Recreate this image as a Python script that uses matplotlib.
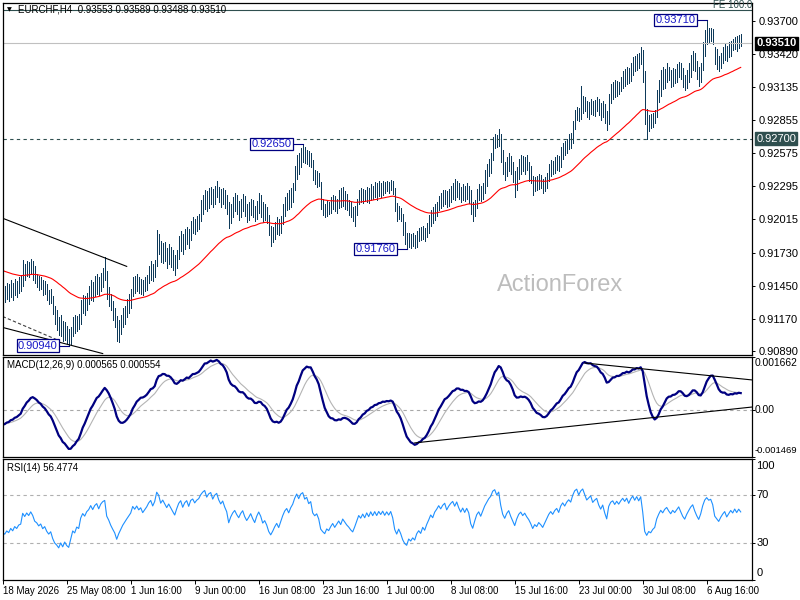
import numpy as np
import pandas as pd
import matplotlib
matplotlib.use("Agg")
import matplotlib.pyplot as plt

plt.rcParams["font.family"] = ["Liberation Sans", "DejaVu Sans"]

# ------------------------------------------
# 1. Data - EURCHF H4 bars, in pips above 0.90000
# ------------------------------------------

close_pips = [
    140, 137, 141, 138, 143, 139, 144, 141, 145, 146,
    160, 156, 161, 158, 163, 159, 152, 150, 146, 148,
    142, 144, 138, 134, 136, 126, 118, 114, 108, 112,
    104, 108, 101, 97, 104, 112, 109, 115, 113, 125,
    131, 128, 134, 137, 143, 139, 145, 148, 143, 150,
    154, 156, 140, 135, 128, 122, 116, 104, 110, 115,
    120, 124, 128, 132, 136, 146, 143, 148, 144, 147,
    142, 146, 150, 156, 160, 155, 162, 181, 178, 170,
    176, 172, 168, 174, 170, 166, 162, 171, 180, 185,
    178, 186, 190, 184, 195, 198, 194, 199, 202, 210,
    216, 220, 214, 221, 224, 218, 226, 230, 224, 220,
    225, 219, 214, 200, 208, 214, 218, 213, 209, 215,
    219, 212, 207, 211, 216, 210, 205, 213, 219, 214,
    205, 208, 202, 192, 186, 190, 195, 199, 193, 200,
    208, 215, 219, 214, 222, 228, 240, 250, 245, 256,
    260, 253, 257, 250, 254, 240, 236, 239, 232, 215,
    210, 206, 212, 209, 214, 218, 212, 216, 220, 215,
    222, 218, 214, 211, 207, 204, 209, 215, 222, 219,
    224, 220, 226, 222, 228, 224, 229, 225, 230, 227,
    231, 227, 231, 228, 232, 226, 212, 205, 210, 203,
    192, 184, 180, 186, 182, 185, 181, 187, 190, 186,
    192, 188, 194, 199, 205, 202, 209, 213, 218, 215,
    220, 223, 217, 222, 226, 229, 225, 231, 226, 222,
    227, 223, 228, 224, 212, 206, 214, 222, 226, 221,
    228, 236, 242, 249, 254, 266, 270, 265, 272, 258,
    246, 240, 248, 253, 245, 238, 230, 240, 248, 252,
    247, 251, 246, 242, 236, 228, 233, 230, 235, 232,
    228, 233, 238, 244, 248, 245, 250, 253, 249, 258,
    263, 260, 266, 270, 268, 280, 290, 294, 289, 298,
    303, 298, 293, 297, 301, 295, 299, 302, 296, 292,
    298, 290, 283, 302, 310, 313, 309, 315, 312, 318,
    323, 320, 326, 321, 329, 335, 331, 338, 334, 342,
    325, 290, 280, 286, 283, 288, 291, 305, 314, 322,
    318, 325, 329, 324, 320, 326, 323, 328, 333, 327,
    321, 317, 324, 330, 336, 340, 333, 327, 322, 330,
    344, 356, 362, 359, 361, 355, 340, 336, 332, 338,
    343, 347, 340, 345, 350, 347, 353, 349, 354, 351.0,
]

high_pips = [
    148, 145, 147, 146, 150, 147, 151, 149, 152, 154,
    167, 163, 166, 165, 168, 166, 162, 155, 153, 152,
    150, 149, 146, 141, 142, 136, 128, 124, 118, 120,
    115, 114, 111, 108, 110, 118, 120, 119, 121, 133,
    137, 136, 139, 145, 150, 148, 153, 155, 152, 156,
    160, 169, 157, 144, 138, 132, 126, 119, 116, 120,
    126, 128, 134, 138, 142, 152, 153, 155, 152, 151,
    150, 152, 154, 162, 166, 163, 167, 192, 189, 183,
    181, 182, 177, 180, 178, 175, 171, 175, 187, 191,
    189, 193, 195, 193, 200, 203, 202, 204, 206, 218,
    222, 226, 225, 228, 229, 227, 230, 234, 229, 227,
    228, 226, 222, 216, 214, 220, 224, 222, 217, 219,
    223, 221, 214, 216, 219, 218, 213, 217, 224, 222,
    216, 214, 212, 205, 196, 195, 199, 203, 202, 204,
    214, 220, 224, 226, 228, 232, 247, 256, 258, 262,
    265, 263, 260, 259, 258, 252, 243, 242, 241, 233,
    219, 214, 217, 216, 220, 222, 221, 219, 226, 228,
    229, 225, 223, 218, 216, 212, 213, 219, 226, 228,
    227, 226, 229, 228, 231, 230, 233, 232, 234, 232,
    234, 233, 234, 233, 235, 234, 228, 215, 213, 211,
    206, 199, 190, 190, 189, 190, 188, 191, 194, 195,
    196, 194, 198, 205, 209, 212, 214, 216, 221, 224,
    226, 226, 225, 227, 230, 232, 236, 234, 232, 229,
    231, 230, 232, 230, 226, 216, 218, 227, 231, 230,
    232, 243, 248, 253, 258, 271, 274, 273, 278, 274,
    260, 250, 254, 258, 255, 250, 242, 246, 253, 256,
    255, 254, 256, 250, 247, 238, 237, 238, 240, 239,
    236, 237, 241, 248, 252, 251, 254, 256, 255, 263,
    266, 268, 270, 274, 275, 285, 294, 297, 296, 315,
    306, 305, 302, 301, 304, 302, 303, 305, 304, 300,
    302, 299, 293, 308, 316, 318, 320, 319, 318, 322,
    327, 329, 331, 330, 334, 339, 340, 342, 343, 348,
    345, 327, 295, 290, 291, 292, 294, 311, 320, 328,
    331, 329, 334, 331, 328, 330, 329, 333, 335, 334,
    330, 324, 328, 334, 341, 344, 343, 336, 331, 334,
    352, 362, 371, 364, 364, 363, 348, 346, 340, 343,
    348, 351, 349, 352, 353, 355, 356, 357, 358, 358.9,
]

low_pips = [
    133, 131, 134, 132, 135, 133, 137, 135, 139, 140,
    145, 150, 153, 152, 155, 150, 147, 144, 141, 142,
    137, 138, 133, 129, 130, 121, 112, 107, 103, 102,
    98, 99, 96, 94, 95, 102, 105, 106, 108, 112,
    122, 120, 124, 129, 133, 132, 136, 138, 137, 140,
    144, 150, 134, 128, 124, 116, 110, 98, 97, 104,
    110, 112, 118, 122, 126, 136, 139, 140, 139, 138,
    137, 140, 141, 147, 150, 149, 152, 162, 172, 165,
    164, 166, 160, 163, 161, 158, 154, 160, 168, 174,
    172, 176, 180, 177, 184, 190, 189, 191, 193, 200,
    206, 210, 208, 211, 214, 212, 214, 220, 216, 212,
    214, 211, 206, 194, 198, 203, 208, 206, 201, 203,
    208, 204, 199, 201, 205, 203, 200, 202, 207, 203,
    199, 201, 198, 188, 179, 182, 185, 189, 188, 190,
    197, 204, 209, 210, 212, 216, 226, 236, 240, 246,
    250, 249, 248, 247, 246, 235, 231, 229, 230, 210,
    205, 203, 204, 206, 207, 210, 208, 207, 211, 212,
    213, 210, 209, 205, 203, 200, 196, 205, 214, 216,
    215, 217, 216, 215, 218, 219, 220, 218, 221, 220,
    222, 224, 225, 224, 226, 223, 208, 200, 202, 200,
    188, 180, 176, 178, 177, 179, 177, 178, 183, 184,
    185, 183, 186, 190, 196, 198, 201, 204, 209, 211,
    213, 214, 212, 213, 216, 219, 218, 220, 219, 216,
    218, 217, 219, 215, 206, 200, 204, 211, 218, 217,
    219, 224, 230, 238, 241, 252, 262, 263, 264, 250,
    240, 235, 238, 242, 240, 233, 220, 226, 236, 240,
    242, 240, 243, 234, 232, 222, 225, 226, 227, 228,
    224, 225, 228, 234, 238, 240, 241, 243, 242, 246,
    253, 256, 258, 261, 262, 266, 278, 286, 285, 287,
    292, 293, 288, 287, 291, 290, 289, 293, 290, 286,
    288, 283, 277, 282, 300, 304, 305, 306, 308, 310,
    313, 315, 316, 317, 319, 324, 327, 328, 330, 333,
    318, 282, 270, 276, 279, 280, 283, 288, 301, 306,
    312, 313, 318, 320, 314, 315, 317, 318, 322, 321,
    314, 311, 313, 318, 322, 328, 327, 321, 315, 318,
    328, 340, 350, 352, 353, 350, 333, 329, 327, 330,
    334, 337, 336, 339, 340, 345, 346, 344, 347, 348.8,
]

# starting values of the indicators at the left edge
ma_start = 0.91585
ema12_start = 0.91395
ema26_start = 0.91445
signal_start = -0.00040
rsi_prev_close = 0.91430
rsi_gain_start = 0.00030
rsi_loss_start = 0.00045

price_ticks = [0.93700, 0.93420, 0.93135, 0.92855, 0.92575, 0.92295,
               0.92015, 0.91730, 0.91450, 0.91170, 0.90890]
bid_price = 0.93510
support_level = 0.92700
fe_level = 0.93795

swing_bars = [33, 150, 202, 352]
swing_prices = [0.90940, 0.92650, 0.91760, 0.93710]

# trendlines (bar index, price / indicator value)
price_lines = [((0, 0.92022), (62, 0.91613), "-"),
               ((0, 0.91094), (50, 0.90872), "-"),
               ((0, 0.91187), (28, 0.90983), "--")]
macd_lines = [((291, 0.00146), (375, 0.00093)),
              ((206, -0.00103), (375, 0.00009))]

macd_ticks = [0.001662, 0.0, -0.001469]
macd_tick_labels = ["0.001662", "0.00", "-0.001469"]
rsi_ticks = [100, 70, 30, 0]

# ------------------------------------------
# 2. Prices, times and indicators
# ------------------------------------------

close = 0.9 + np.array(close_pips) / 10000
high = 0.9 + np.array(high_pips) / 10000
low = 0.9 + np.array(low_pips) / 10000
n = len(close)
x = np.arange(n)

times = pd.date_range("2026-05-18 00:00", periods=n * 2, freq="4h")
times = times[times.dayofweek < 5][:n]


def ema(values, period, start):
    a = 2.0 / (period + 1)
    out = []
    v = start
    for c in values:
        v = v + a * (c - v)
        out.append(v)
    return np.array(out)


ma55 = ema(close, 55, ma_start)
macd = ema(close, 12, ema12_start) - ema(close, 26, ema26_start)
signal = ema(macd, 9, signal_start)

rsi = []
avg_gain, avg_loss = rsi_gain_start, rsi_loss_start
prev = rsi_prev_close
for c in close:
    d = c - prev
    avg_gain = (avg_gain * 13 + max(d, 0)) / 14
    avg_loss = (avg_loss * 13 + max(-d, 0)) / 14
    rsi.append(100 - 100 / (1 + avg_gain / avg_loss))
    prev = c
rsi = np.array(rsi)

# ------------------------------------------
# 3. Figure layout (pixel based, like the terminal)
# ------------------------------------------

W, H = 800, 600
fig = plt.figure(figsize=(8, 6), dpi=100)
fig.patch.set_facecolor("white")


def px_axes(left, top, right, bottom):
    return fig.add_axes([left / W, 1 - bottom / H, (right - left) / W, (bottom - top) / H])


ax1 = px_axes(2.5, 2.5, 752, 354.5)
ax2 = px_axes(2.5, 356.5, 752, 457)
ax3 = px_axes(2.5, 459, 752, 579.5)

xmin, xmax = -0.1, 374.65
for ax in (ax1, ax2, ax3):
    ax.set_xlim(xmin, xmax)
    for s in ax.spines.values():
        s.set_color("black")
        s.set_linewidth(0.9)
    ax.tick_params(axis="y", left=False, labelleft=False, right=True, labelright=True,
                   length=2.5, width=0.7, pad=2, labelsize=8, colors="black")
ax1.set_xticks([])
ax2.set_xticks([])

bar_color = "#0E3A5A"
label_kw = dict(fontsize=7, color="black")

# ------------------------------------------
# 4. Price panel
# ------------------------------------------

ax1.set_ylim(0.90864, 0.93856)
ax1.set_yticks(price_ticks)
ax1.set_yticklabels([f"{p:.5f}" for p in price_ticks])

ax1.vlines(x, low, high, color=bar_color, lw=0.5, antialiased=False)
ax1.plot(x, ma55, color="red", lw=0.8)

ax1.axhline(bid_price, color="#C0C0C0", lw=0.8)
ax1.axhline(support_level, color="#2F4F4F", lw=0.8, ls=(0, (3, 3)))
ax1.axhline(fe_level, color="#2F4F4F", lw=0.8)
ax1.text(1.0, fe_level, "FE 100.0", transform=ax1.get_yaxis_transform(),
         ha="right", va="bottom", fontsize=7, color="#2F4F4F")

for (x0, y0), (x1, y1), ls in price_lines:
    ax1.plot([x0, x1], [y0, y1], color="black" if ls == "-" else "#404040",
             lw=0.8, ls=ls if ls == "-" else (0, (3, 2)))

for b, p in zip(swing_bars, swing_prices):
    box_right = b - 5
    ax1.plot([box_right, b], [p, p], color="#000080", lw=0.8)
    ax1.text(box_right - 0.6, p, f"{p:.5f}", ha="right", va="center", fontsize=8,
             color="#1818C8",
             bbox=dict(boxstyle="square,pad=0.1", fc="white", ec="#000080", lw=0.9))

ax1.annotate(f"{bid_price:.5f}", xy=(1, bid_price), xycoords=("axes fraction", "data"),
             xytext=(3, 0), textcoords="offset points", ha="left", va="center",
             fontsize=8, color="white", fontweight="bold",
             bbox=dict(boxstyle="square,pad=0.12", fc="black", ec="black"))
ax1.annotate(f"{support_level:.5f}", xy=(1, support_level), xycoords=("axes fraction", "data"),
             xytext=(3, 0), textcoords="offset points", ha="left", va="center",
             fontsize=8, color="white",
             bbox=dict(boxstyle="square,pad=0.12", fc="#2F4F4F", ec="#2F4F4F"))

ax1.annotate("\u25BC", xy=(0, 1), xycoords="axes fraction", xytext=(3.5, -5.4),
             textcoords="offset points", ha="left", va="center", fontsize=4.5,
             color="black", family=["DejaVu Sans"])
ax1.annotate("EURCHF,H4  0.93553 0.93589 0.93488 0.93510", xy=(0, 1), xycoords="axes fraction",
             xytext=(11, -5.4), textcoords="offset points", ha="left", va="center", **label_kw)

ax1.text(0.744, 0.197, "ActionForex", transform=ax1.transAxes, ha="center", va="center",
         fontsize=17, color="#BDBDBD")

# ------------------------------------------
# 5. MACD panel
# ------------------------------------------

ax2.set_ylim(-0.001469, 0.001662)
ax2.set_yticks(macd_ticks)
ax2.tick_params(axis="y", labelright=False)
ax2.axhline(0, color="#A8A8A8", lw=0.8, ls=(0, (3, 3)))
ax2.plot(x, signal, color="#B4B4B4", lw=0.8)
ax2.plot(x, macd, color="#000080", lw=1.6)
for (x0, y0), (x1, y1) in macd_lines:
    ax2.plot([x0, x1], [y0, y1], color="black", lw=0.8)

for v, lab in zip(macd_ticks, macd_tick_labels):
    dy = -5 if v == macd_ticks[0] else (5 if v == macd_ticks[-1] else 0)
    fs = 6.8 if lab.startswith("-") else 7.4
    ax2.annotate(lab, xy=(1, v), xycoords=("axes fraction", "data"), xytext=(2.2, dy),
                 textcoords="offset points", ha="left", va="center", fontsize=fs,
                 annotation_clip=False)
ax2.annotate("MACD(12,26,9) 0.000565 0.000554", xy=(0, 1), xycoords="axes fraction",
             xytext=(3.5, -6.3), textcoords="offset points", ha="left", va="center", **label_kw)

# ------------------------------------------
# 6. RSI panel
# ------------------------------------------

ax3.set_ylim(0, 100)
ax3.set_yticks(rsi_ticks)
ax3.tick_params(axis="y", labelright=False)
for lvl in (70, 30):
    ax3.axhline(lvl, color="#B0B0B0", lw=0.8, ls=(0, (3, 3)))
ax3.plot(x, rsi, color="#1E90FF", lw=0.8)

for v in rsi_ticks:
    dy = -5 if v == 100 else (5 if v == 0 else 0)
    ax3.annotate(str(v), xy=(1, v), xycoords=("axes fraction", "data"), xytext=(3, dy),
                 textcoords="offset points", ha="left", va="center", fontsize=8,
                 annotation_clip=False)
ax3.annotate("RSI(14) 56.4774", xy=(0, 1), xycoords="axes fraction",
             xytext=(3.5, -6.8), textcoords="offset points", ha="left", va="center", **label_kw)

# time axis: a label every 32 bars
tick_idx = list(range(0, n, 32))
tick_labels = []
for i in tick_idx:
    t = times[i]
    if i == 0:
        tick_labels.append(f"{t.day} {t:%b %Y}")
    else:
        tick_labels.append(f"{t.day} {t:%b %H:%M}")
ax3.set_xticks(tick_idx)
ax3.set_xticklabels(tick_labels, ha="left")
ax3.tick_params(axis="x", length=3, width=0.7, pad=2, labelsize=7, colors="black")

fig.savefig("out.png", dpi=100, facecolor="white")
